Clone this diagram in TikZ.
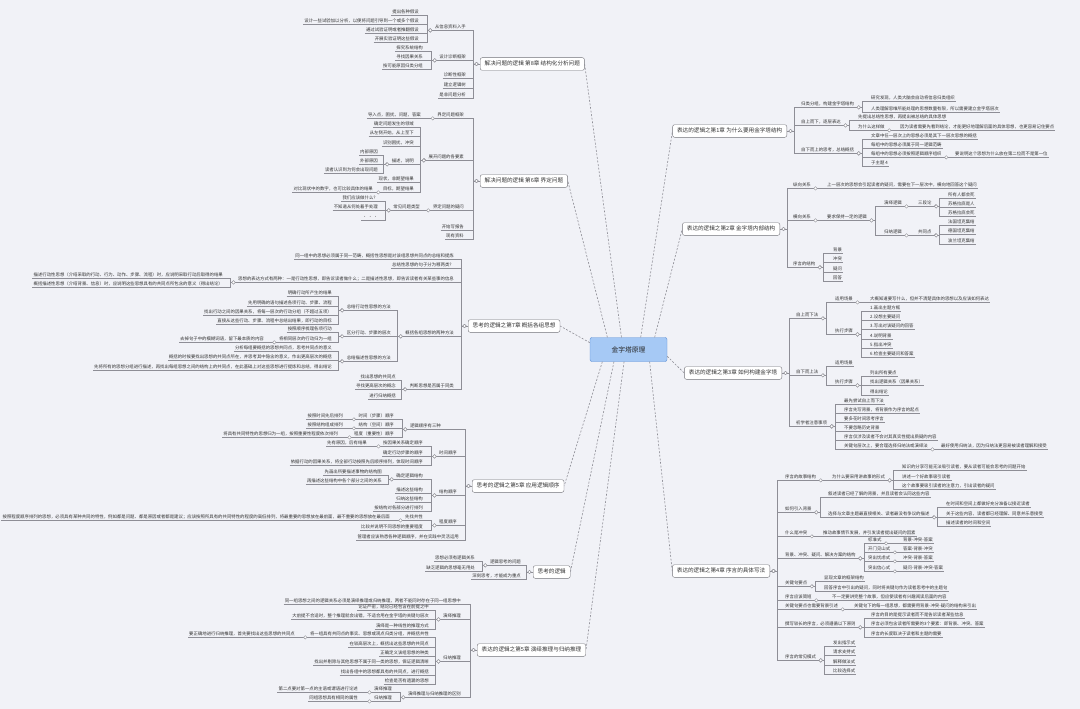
\documentclass[tikz,border=0pt]{standalone}
\usepackage{fontspec}
\setmainfont{Noto Sans CJK SC}
\usetikzlibrary{positioning}
\definecolor{bgcol}{HTML}{F1F2F7}
\definecolor{linecol}{HTML}{8E8E96}
\definecolor{txtcol}{HTML}{333333}
\definecolor{hubfill}{HTML}{A6C9F5}
\definecolor{hubdraw}{HTML}{5A8ED6}

\begin{document}
\begin{tikzpicture}[
  x=1pt, y=-1pt,
  uline/.style={draw=linecol, line width=0.5pt},
  leaf/.style={font=\fontsize{4.4}{5}\selectfont, text=txtcol, inner xsep=1pt, inner ysep=0.9pt,
    text height=3.5pt, text depth=1pt,
    append after command={(\tikzlastnode.south west) edge[uline] (\tikzlastnode.south east)}},
  rleaf/.style={leaf, anchor=west},
  lleaf/.style={leaf, anchor=east},
  chap/.style={draw=linecol!80!black, fill=white, rounded corners=2pt, text=txtcol,
    font=\fontsize{5.6}{6.5}\selectfont, inner xsep=4.5pt, inner ysep=3.4pt,
    text height=4.6pt, text depth=1.2pt},
  hub/.style={draw=hubdraw, fill=hubfill, rounded corners=2pt, minimum width=77pt,
    minimum height=24pt, font=\fontsize{6.8}{8}\selectfont, text=black!85},
  knob/.style={circle, draw=linecol, fill=white, line width=0.4pt, inner sep=0pt, minimum size=3.4pt},
  wire/.style={draw=linecol, line width=0.5pt},
  rfork/.style={to path={-- ++(7,0) node[knob, pos=0.5] {} |- (\tikztotarget)}},
  lfork/.style={to path={-- ++(-7,0) node[knob, pos=0.5] {} |- (\tikztotarget)}},
  link/.style={draw=linecol, line width=0.6pt, dash pattern=on 2pt off 1.6pt},
]
\path[use as bounding box, fill=bgcol] (0,0) rectangle (1080,709);

% centre
\node[hub] (root) at (628.5,349.5) {金字塔原理};

% 第8章 结构化分析问题
\node[chap, anchor=west] (ch8) at (480,64) {解决问题的逻辑 第8章 结构化分析问题};
\node[lleaf] (a8) at (467,27) {从信息资料入手};
\node[lleaf] (a8a) at (420,12) {提出各种假设};
\node[lleaf] (a8b) at (420,21) {设计一些试验加以分析，以便将问题引导到一个或多个假设};
\node[lleaf] (a8c) at (420,30) {通过试验证明或者推翻假设};
\node[lleaf] (a8d) at (420,39) {开展实验证明这些假设};
\node[lleaf] (b8) at (467,57) {设计诊断框架};
\node[lleaf] (b8a) at (424,48) {探究系统结构};
\node[lleaf] (b8b) at (424,57) {寻找因果关系};
\node[lleaf] (b8c) at (424,66) {按可能原因归类分组};
\node[lleaf] (c8) at (467,75) {诊断性框架};
\node[lleaf] (d8) at (467,85) {建立逻辑树};
\node[lleaf] (e8) at (467,95) {是非问题分析};

\draw[wire] (ch8.west) edge[lfork] (a8.south east) edge[lfork] (b8.south east)
  edge[lfork] (c8.south east) edge[lfork] (d8.south east) edge[lfork] (e8.south east);
\draw[wire] (a8.south west) edge[lfork] (a8a.south east) edge[lfork] (a8b.south east)
  edge[lfork] (a8c.south east) edge[lfork] (a8d.south east);
\draw[wire] (b8.south west) edge[lfork] (b8a.south east) edge[lfork] (b8b.south east)
  edge[lfork] (b8c.south east);

% 第6章 界定问题
\node[chap, anchor=west] (ch6) at (480,181) {解决问题的逻辑 第6章 界定问题};
\node[lleaf] (a6) at (465,115) {界定问题框架};
\node[lleaf] (a6a) at (422,115) {导入点，困扰，问题，答案};
\node[lleaf] (b6) at (465,157) {展开问题的各要素};
\node[lleaf] (b6a) at (415,124) {确定问题发生的领域};
\node[lleaf] (b6b) at (415,133) {从左侧开始，从上至下};
\node[lleaf] (b6c) at (415,143) {识别困扰，冲突};
\node[lleaf] (c6) at (415,161) {描述，说明};
\node[lleaf] (c6a) at (379,152) {内部原因};
\node[lleaf] (c6b) at (379,161) {外部原因};
\node[lleaf] (c6c) at (379,170) {读者认识到为何会出现问题};
\node[lleaf] (b6d) at (415,179) {现状，非期望结果};
\node[lleaf] (d6) at (415,189) {目标，期望结果};
\node[lleaf] (d6a) at (374,189) {对比现状中的数字，也可比较具体的结果};
\node[lleaf] (e6) at (465,207) {界定问题的疑问};
\node[lleaf] (f6) at (421,207) {常见问题类型};
\node[lleaf] (f6a) at (379,198) {我们应该做什么？};
\node[lleaf] (f6b) at (379,207) {不知道从何处着手处理};
\node[lleaf] (f6c) at (379,217) {· · ·};
\node[lleaf] (g6) at (465,227) {开始写报告};
\node[lleaf] (h6) at (465,236) {现有资料};

\draw[wire] (ch6.west) edge[lfork] (a6.south east) edge[lfork] (b6.south east)
  edge[lfork] (e6.south east) edge[lfork] (g6.south east) edge[lfork] (h6.south east);
\draw[wire] (a6.south west) edge[lfork] (a6a.south east);
\draw[wire] (b6.south west) edge[lfork] (b6a.south east) edge[lfork] (b6b.south east)
  edge[lfork] (b6c.south east) edge[lfork] (c6.south east) edge[lfork] (b6d.south east)
  edge[lfork] (d6.south east);
\draw[wire] (c6.south west) edge[lfork] (c6a.south east) edge[lfork] (c6b.south east)
  edge[lfork] (c6c.south east);
\draw[wire] (d6.south west) edge[lfork] (d6a.south east);
\draw[wire] (e6.south west) edge[lfork] (f6.south east);
\draw[wire] (f6.south west) edge[lfork] (f6a.south east) edge[lfork] (f6b.south east)
  edge[lfork] (f6c.south east);

% 第7章 概括各组思想
\node[chap, anchor=west] (ch7) at (468,326) {思考的逻辑之第7章 概括各组思想};
\node[lleaf] (a7) at (455,256) {同一组中的思想必须属于同一范畴，概括性思想是对该组思想共同点的总结和提炼};
\node[lleaf] (b7) at (455,265) {总结性思想的句子分为哪两类？};
\node[lleaf] (c7) at (455,279) {思想的表达方式有两种：一是行动性思想，即告诉读者做什么；二是描述性思想，即告诉读者有关某些事的信息};
\node[lleaf] (c7a) at (224,275) {描述行动性思想（介绍采取的行动、行为、动作、步骤、流程）时，应说明采取行动后取得的结果};
\node[lleaf] (c7b) at (224,284) {概括描述性思想（介绍背景、信息）时，应说明这些思想具有的共同点所包含的意义（得出结论）};
\node[lleaf] (d7) at (455,333) {概括各组思想的两种方法};
\node[lleaf] (e7) at (392,307) {总结行动性思想的方法};
\node[lleaf] (e7a) at (333,293) {明确行动所产生的结果};
\node[lleaf] (e7b) at (333,303) {先用明确的语句描述各项行动、步骤、流程};
\node[lleaf] (e7c) at (333,312) {找出行动之间的因果关系，将每一层次的行动分组（不超过五项）};
\node[lleaf] (e7d) at (333,321) {直接从这些行动、步骤、流程中总结出结果，即行动的目标};
\node[lleaf] (f7) at (392,333) {区分行动、步骤的层次};
\node[lleaf] (f7a) at (333,329) {按照顺序梳理各项行动};
\node[lleaf] (g7) at (333,339) {将相同层次的行动归为一组};
\node[lleaf] (g7a) at (265,339) {去掉句子中的模糊词语，留下最本质的内容};
\node[lleaf] (h7) at (392,358) {总结描述性思想的方法};
\node[lleaf] (h7a) at (333,348) {分析每组要概括的思想共同点，思考共同点的意义};
\node[lleaf] (h7b) at (333,357) {概括的时候要找出思想的共同点所在，并思考其中隐含的意义，作出更高层次的概括};
\node[lleaf] (h7c) at (333,367) {先将所有的思想分组进行描述，再找出每组思想之间的结构上的共同点，在此基础上对这些思想进行提炼和总结，得出结论};
\node[lleaf] (i7) at (455,386) {判断思想是否属于同类};
\node[lleaf] (i7a) at (397,377) {找出思想的共同点};
\node[lleaf] (i7b) at (397,386) {寻找更高层次的概念};
\node[lleaf] (i7c) at (397,396) {进行归纳概括};

\draw[wire] (ch7.west) edge[lfork] (a7.south east) edge[lfork] (b7.south east)
  edge[lfork] (c7.south east) edge[lfork] (d7.south east) edge[lfork] (i7.south east);
\draw[wire] (c7.south west) edge[lfork] (c7a.south east) edge[lfork] (c7b.south east);
\draw[wire] (d7.south west) edge[lfork] (e7.south east) edge[lfork] (f7.south east)
  edge[lfork] (h7.south east);
\draw[wire] (e7.south west) edge[lfork] (e7a.south east) edge[lfork] (e7b.south east)
  edge[lfork] (e7c.south east) edge[lfork] (e7d.south east);
\draw[wire] (f7.south west) edge[lfork] (f7a.south east) edge[lfork] (g7.south east);
\draw[wire] (g7.south west) edge[lfork] (g7a.south east);
\draw[wire] (h7.south west) edge[lfork] (h7a.south east) edge[lfork] (h7b.south east)
  edge[lfork] (h7c.south east);
\draw[wire] (i7.south west) edge[lfork] (i7a.south east) edge[lfork] (i7b.south east)
  edge[lfork] (i7c.south east);

% 第5章 应用逻辑顺序
\node[chap, anchor=west] (ch5a) at (472,486) {思考的逻辑之第5章 应用逻辑顺序};
\node[lleaf] (a5) at (442,426) {逻辑顺序有三种};
\node[lleaf] (a5a) at (395,416) {时间（步骤）顺序};
\node[lleaf] (a5a1) at (344,416) {按照时间先后排列};
\node[lleaf] (a5b) at (395,425) {结构（空间）顺序};
\node[lleaf] (a5b1) at (344,425) {按照结构组成排列};
\node[lleaf] (a5c) at (395,434) {程度（重要性）顺序};
\node[lleaf] (a5c1) at (339,434) {将具有共同特性的思想归为一组，按照重要性程度依次排列};
\node[lleaf] (b5) at (458,453) {时间顺序};
\node[lleaf] (b5a) at (424,443) {按因果关系确定顺序};
\node[lleaf] (b5a1) at (368,443) {先有原因，后有结果};
\node[lleaf] (b5b) at (424,453) {确定行动步骤的顺序};
\node[lleaf] (b5c) at (424,462) {依据行动的因果关系，将全部行动按照先后顺序排列，体现时间顺序};
\node[lleaf] (c5) at (458,492) {结构顺序};
\node[lleaf] (c5a) at (424,476) {确定逻辑结构};
\node[lleaf] (c5a1) at (383,472) {先画出所要描述事物的结构图};
\node[lleaf] (c5a2) at (383,481) {再描述这些结构中各个部分之间的关系};
\node[lleaf] (c5b) at (424,490) {描述这些结构};
\node[lleaf] (c5c) at (424,499) {归纳这些结构};
\node[lleaf] (c5d) at (424,508) {按结构对各部分进行排列};
\node[lleaf] (d5) at (458,522) {程度顺序};
\node[lleaf] (d5a) at (424,517) {先找共性};
\node[lleaf] (d5a1) at (391,517) {按照程度顺序排列的思想，必须具有某种共同的特性，例如都是问题、都是原因或者都是建议；应该按照所具有的共同特性的程度的高低排列，将最重要的思想放在最前面，最不重要的思想放在最后面};
\node[lleaf] (d5b) at (424,527) {比较并说明不同思想的重要程度};
\node[lleaf] (e5) at (460,537) {管理者应该熟悉各种逻辑顺序，并在实践中灵活运用};

\draw[wire] (ch5a.west) edge[lfork] (a5.south east) edge[lfork] (b5.south east)
  edge[lfork] (c5.south east) edge[lfork] (d5.south east) edge[lfork] (e5.south east);
\draw[wire] (a5.south west) edge[lfork] (a5a.south east) edge[lfork] (a5b.south east)
  edge[lfork] (a5c.south east);
\draw[wire] (a5a.south west) edge[lfork] (a5a1.south east);
\draw[wire] (a5b.south west) edge[lfork] (a5b1.south east);
\draw[wire] (a5c.south west) edge[lfork] (a5c1.south east);
\draw[wire] (b5.south west) edge[lfork] (b5a.south east) edge[lfork] (b5b.south east)
  edge[lfork] (b5c.south east);
\draw[wire] (b5a.south west) edge[lfork] (b5a1.south east);
\draw[wire] (c5.south west) edge[lfork] (c5a.south east) edge[lfork] (c5b.south east)
  edge[lfork] (c5c.south east) edge[lfork] (c5d.south east);
\draw[wire] (c5a.south west) edge[lfork] (c5a1.south east) edge[lfork] (c5a2.south east);
\draw[wire] (d5.south west) edge[lfork] (d5a.south east) edge[lfork] (d5b.south east);
\draw[wire] (d5a.south west) edge[lfork] (d5a1.south east);

% 思考的逻辑
\node[chap, anchor=west] (think) at (533,572) {思考的逻辑};
\node[lleaf] (a9) at (522,562) {逻辑思考的问题};
\node[lleaf] (a9a) at (476,558) {思想必须有逻辑关系};
\node[lleaf] (a9b) at (476,568) {缺乏逻辑的思想毫无用处};
\node[lleaf] (b9) at (522,576) {深刻思考，才能成为重点};

\draw[wire] (think.west) edge[lfork] (a9.south east) edge[lfork] (b9.south east);
\draw[wire] (a9.south west) edge[lfork] (a9a.south east) edge[lfork] (a9b.south east);

% 第5章 演绎推理与归纳推理
\node[chap, anchor=west] (ch5b) at (477,650) {表达的逻辑之第5章 演绎推理与归纳推理};
\node[lleaf] (a10) at (462,601) {同一组思想之间的逻辑关系必须是演绎推理或归纳推理，两者不能同时存在于同一组思想中};
\node[lleaf] (b10) at (462,616) {演绎推理};
\node[lleaf] (b10a) at (430,607) {论证严密，结论已经包含在前提之中};
\node[lleaf] (b10b) at (430,616) {大前提不合适时，整个推理就会出错，不适合用在金字塔的关键句层次};
\node[lleaf] (b10c) at (430,626) {演绎是一种线性的推理方式};
\node[lleaf] (c10) at (462,658) {归纳推理};
\node[lleaf] (c10a) at (430,634) {将一组具有共同点的事实、思想或观点归类分组，并概括共性};
\node[lleaf] (c10a1) at (296,634) {要正确地进行归纳推理，首先要找出这些思想的共同点};
\node[lleaf] (c10b) at (430,644) {在较高层次上，概括出这些思想的共同点};
\node[lleaf] (c10c) at (430,653) {正确定义该组思想的种类};
\node[lleaf] (c10d) at (430,662) {找出并剔除与其他思想不属于同一类的思想，保证逻辑清晰};
\node[lleaf] (c10e) at (430,672) {找出各组中的思想都具有的共同点，进行概括};
\node[lleaf] (c10f) at (430,681) {检查是否有遗漏的思想};
\node[lleaf] (d10) at (462,694) {演绎推理与归纳推理的区别};
\node[lleaf] (d10a) at (393,689) {演绎推理};
\node[lleaf] (d10a1) at (359,689) {第二点要对第一点的主语或谓语进行论述};
\node[lleaf] (d10b) at (393,698) {归纳推理};
\node[lleaf] (d10b1) at (359,698) {同组思想具有相同的属性};

\draw[wire] (ch5b.west) edge[lfork] (a10.south east) edge[lfork] (b10.south east)
  edge[lfork] (c10.south east) edge[lfork] (d10.south east);
\draw[wire] (b10.south west) edge[lfork] (b10a.south east) edge[lfork] (b10b.south east)
  edge[lfork] (b10c.south east);
\draw[wire] (c10.south west) edge[lfork] (c10a.south east) edge[lfork] (c10b.south east)
  edge[lfork] (c10c.south east) edge[lfork] (c10d.south east) edge[lfork] (c10e.south east)
  edge[lfork] (c10f.south east);
\draw[wire] (c10a.south west) edge[lfork] (c10a1.south east);
\draw[wire] (d10.south west) edge[lfork] (d10a.south east) edge[lfork] (d10b.south east);
\draw[wire] (d10a.south west) edge[lfork] (d10a1.south east);
\draw[wire] (d10b.south west) edge[lfork] (d10b1.south east);

% 第1章 为什么要用金字塔结构
\node[chap, anchor=east] (ch1) at (787,131) {表达的逻辑之第1章 为什么要用金字塔结构};
\node[rleaf] (a1) at (800,104) {归类分组，构建金字塔结构};
\node[rleaf] (a1a) at (870,98) {研究发现，人类大脑会自动将信息归类组织};
\node[rleaf] (a1b) at (870,109) {人类理解思维所能处理的思想数量有限，所以需要建立金字塔层次};
\node[rleaf] (b1) at (800,122) {自上而下，逐层表达};
\node[rleaf] (b1a) at (857,117) {先提出总结性思想，再提出被总结的具体思想};
\node[rleaf] (c1) at (857,127) {为什么这样做};
\node[rleaf] (c1a) at (899,127) {因为读者需要先看到结论，才能更好地理解后面的具体思想，也更容易记住要点};
\node[rleaf] (d1) at (800,150) {自下而上的思考，总结概括};
\node[rleaf] (d1a) at (870,136) {文章中任一层次上的思想必须是其下一层次思想的概括};
\node[rleaf] (d1b) at (870,145) {每组中的思想必须属于同一逻辑范畴};
\node[rleaf] (e1) at (870,154) {每组中的思想必须按照逻辑顺序组织};
\node[rleaf] (e1a) at (954,154) {要说明这个思想为什么放在第二位而不是第一位};
\node[rleaf] (d1c) at (870,163) {子主题 4};

\draw[wire] (ch1.east) edge[rfork] (a1.south west) edge[rfork] (b1.south west)
  edge[rfork] (d1.south west);
\draw[wire] (a1.south east) edge[rfork] (a1a.south west) edge[rfork] (a1b.south west);
\draw[wire] (b1.south east) edge[rfork] (b1a.south west) edge[rfork] (c1.south west);
\draw[wire] (c1.south east) edge[rfork] (c1a.south west);
\draw[wire] (d1.south east) edge[rfork] (d1a.south west) edge[rfork] (d1b.south west)
  edge[rfork] (e1.south west) edge[rfork] (d1c.south west);
\draw[wire] (e1.south east) edge[rfork] (e1a.south west);

% 第2章 金字塔内部结构
\node[chap, anchor=east] (ch2) at (780,229) {表达的逻辑之第2章 金字塔内部结构};
\node[rleaf] (a2) at (792,185) {纵向关系};
\node[rleaf] (a2a) at (826,185) {上一层次的思想会引起读者的疑问，需要在下一层次中，横向地回答这个疑问};
\node[rleaf] (b2) at (792,217) {横向关系};
\node[rleaf] (c2) at (826,217) {要求保持一定的逻辑};
\node[rleaf] (d2) at (883,203) {演绎逻辑};
\node[rleaf] (e2) at (917,203) {三段论};
\node[rleaf] (e2a) at (947,195) {所有人都会死};
\node[rleaf] (e2b) at (947,204) {苏格拉底是人};
\node[rleaf] (e2c) at (947,213) {苏格拉底会死};
\node[rleaf] (f2) at (883,232) {归纳逻辑};
\node[rleaf] (g2) at (917,232) {共同点};
\node[rleaf] (g2a) at (947,222) {法国坦克集结};
\node[rleaf] (g2b) at (947,231) {德国坦克集结};
\node[rleaf] (g2c) at (947,241) {波兰坦克集结};
\node[rleaf] (h2) at (792,264) {序言的结构};
\node[rleaf] (h2a) at (832,250) {背景};
\node[rleaf] (h2b) at (832,259) {冲突};
\node[rleaf] (h2c) at (832,269) {疑问};
\node[rleaf] (h2d) at (832,278) {回答};

\draw[wire] (ch2.east) edge[rfork] (a2.south west) edge[rfork] (b2.south west)
  edge[rfork] (h2.south west);
\draw[wire] (a2.south east) edge[rfork] (a2a.south west);
\draw[wire] (b2.south east) edge[rfork] (c2.south west);
\draw[wire] (c2.south east) edge[rfork] (d2.south west) edge[rfork] (f2.south west);
\draw[wire] (d2.south east) edge[rfork] (e2.south west);
\draw[wire] (e2.south east) edge[rfork] (e2a.south west) edge[rfork] (e2b.south west)
  edge[rfork] (e2c.south west);
\draw[wire] (f2.south east) edge[rfork] (g2.south west);
\draw[wire] (g2.south east) edge[rfork] (g2a.south west) edge[rfork] (g2b.south west)
  edge[rfork] (g2c.south west);
\draw[wire] (h2.south east) edge[rfork] (h2a.south west) edge[rfork] (h2b.south west)
  edge[rfork] (h2c.south west) edge[rfork] (h2d.south west);

% 第3章 如何构建金字塔
\node[chap, anchor=east] (ch3) at (782,373) {表达的逻辑之第3章 如何构建金字塔};
\node[rleaf] (a3) at (795,315) {自上而下法};
\node[rleaf] (b3) at (834,299) {适用场景};
\node[rleaf] (b3a) at (869,299) {大概知道要写什么，但并不清楚具体的思想以及应该如何表达};
\node[rleaf] (c3) at (834,331) {执行步骤};
\node[rleaf] (c3a) at (869,308) {1.画出主题方框};
\node[rleaf] (c3b) at (869,317) {2.设想主要疑问};
\node[rleaf] (c3c) at (869,326) {3.写出对该疑问的回答};
\node[rleaf] (c3d) at (869,336) {4.说明背景};
\node[rleaf] (c3e) at (869,345) {5.指出冲突};
\node[rleaf] (c3f) at (869,354) {6.检查主要疑问和答案};
\node[rleaf] (d3) at (795,372) {自下而上法};
\node[rleaf] (d3a) at (834,363) {适用场景};
\node[rleaf] (e3) at (834,382) {执行步骤};
\node[rleaf] (e3a) at (869,373) {列出所有要点};
\node[rleaf] (e3b) at (869,382) {找出逻辑关系（因果关系）};
\node[rleaf] (e3c) at (869,392) {得出结论};
\node[rleaf] (f3) at (795,423) {初学者注意事项};
\node[rleaf] (f3a) at (843,401) {最先尝试自上而下法};
\node[rleaf] (f3b) at (843,410) {序言先写背景，将背景作为序言的起点};
\node[rleaf] (f3c) at (843,419) {要多花时间思考序言};
\node[rleaf] (f3d) at (843,428) {不要忽略历史背景};
\node[rleaf] (f3e) at (843,437) {序言仅涉及读者不会对其真实性提出质疑的内容};
\node[rleaf] (g3) at (843,446) {关键句层次上，要合理选择归纳法或演绎法};
\node[rleaf] (g3a) at (940,446) {最好使用归纳法，因为归纳法更容易被读者理解和接受};

\draw[wire] (ch3.east) edge[rfork] (a3.south west) edge[rfork] (d3.south west)
  edge[rfork] (f3.south west);
\draw[wire] (a3.south east) edge[rfork] (b3.south west) edge[rfork] (c3.south west);
\draw[wire] (b3.south east) edge[rfork] (b3a.south west);
\draw[wire] (c3.south east) edge[rfork] (c3a.south west) edge[rfork] (c3b.south west)
  edge[rfork] (c3c.south west) edge[rfork] (c3d.south west) edge[rfork] (c3e.south west)
  edge[rfork] (c3f.south west);
\draw[wire] (d3.south east) edge[rfork] (d3a.south west) edge[rfork] (e3.south west);
\draw[wire] (e3.south east) edge[rfork] (e3a.south west) edge[rfork] (e3b.south west)
  edge[rfork] (e3c.south west);
\draw[wire] (f3.south east) edge[rfork] (f3a.south west) edge[rfork] (f3b.south west)
  edge[rfork] (f3c.south west) edge[rfork] (f3d.south west) edge[rfork] (f3e.south west)
  edge[rfork] (g3.south west);
\draw[wire] (g3.south east) edge[rfork] (g3a.south west);

% 第4章 序言的具体写法
\node[chap, anchor=east] (ch4) at (770,571) {表达的逻辑之第4章 序言的具体写法};
\node[rleaf] (a4) at (784,477) {序言的故事结构};
\node[rleaf] (b4) at (831,477) {为什么要采用讲故事的形式};
\node[rleaf] (b4a) at (901,467) {知识的分享可能无法吸引读者，要从读者可能会思考的问题开始};
\node[rleaf] (b4b) at (901,477) {讲述一个好故事吸引读者};
\node[rleaf] (b4c) at (901,486) {这个故事要吸引读者的注意力，引出读者的疑问};
\node[rleaf] (c4) at (784,509) {如何引入背景};
\node[rleaf] (c4a) at (827,494) {叙述读者已经了解的背景，并且读者会认同这些内容};
\node[rleaf] (d4) at (827,514) {选择与文章主题最直接相关、读者最没有争议的描述};
\node[rleaf] (d4a) at (945,504) {在时间和空间上都做好充分准备以接近读者};
\node[rleaf] (d4b) at (945,514) {关于这些内容，读者都已经理解、同意并乐意接受};
\node[rleaf] (d4c) at (945,523) {描述读者的时间和空间};
\node[rleaf] (e4) at (784,533) {什么是冲突};
\node[rleaf] (e4a) at (822,533) {推动故事情节发展，并引发读者提出疑问的因素};
\node[rleaf] (f4) at (784,555) {背景、冲突、疑问、解决方案的结构};
\node[rleaf] (g4) at (867,540) {标准式};
\node[rleaf] (g4a) at (902,540) {背景-冲突-答案};
\node[rleaf] (h4) at (867,549) {开门见山式};
\node[rleaf] (h4a) at (902,549) {答案-背景-冲突};
\node[rleaf] (i4) at (867,558) {突出忧虑式};
\node[rleaf] (i4a) at (902,558) {冲突-背景-答案};
\node[rleaf] (j4) at (867,568) {突出信心式};
\node[rleaf] (j4a) at (902,568) {疑问-背景-冲突-答案};
\node[rleaf] (k4) at (784,583) {关键句要点};
\node[rleaf] (k4a) at (823,578) {显现文章的框架结构};
\node[rleaf] (k4b) at (823,588) {回答序言中引出的疑问，同时将关键句作为读者思考中的主题句};
\node[rleaf] (l4) at (784,597) {序言应该简短};
\node[rleaf] (l4a) at (831,597) {不一定要讲完整个故事，但应使读者有兴趣阅读后面的内容};
\node[rleaf] (m4) at (784,606) {关键句要点也需要背景引述};
\node[rleaf] (m4a) at (853,606) {关键句下的每一组思想，都需要用背景-冲突-疑问的结构来引出};
\node[rleaf] (n4) at (784,624) {撰写较长的序言，必须遵循以下原则};
\node[rleaf] (n4a) at (870,615) {序言的目的是提示读者而不是告诉读者某些信息};
\node[rleaf] (n4b) at (870,624) {序言必须包含读者所需要的3个要素：即背景、冲突、答案};
\node[rleaf] (n4c) at (870,634) {序言的长度取决于读者和主题的需要};
\node[rleaf] (o4) at (784,657) {序言的常见模式};
\node[rleaf] (o4a) at (832,643) {发出指示式};
\node[rleaf] (o4b) at (832,652) {请求支持式};
\node[rleaf] (o4c) at (832,662) {解释做法式};
\node[rleaf] (o4d) at (832,671) {比较选择式};

\draw[wire] (ch4.east) edge[rfork] (a4.south west) edge[rfork] (c4.south west)
  edge[rfork] (e4.south west) edge[rfork] (f4.south west) edge[rfork] (k4.south west)
  edge[rfork] (l4.south west) edge[rfork] (m4.south west) edge[rfork] (n4.south west)
  edge[rfork] (o4.south west);
\draw[wire] (a4.south east) edge[rfork] (b4.south west);
\draw[wire] (b4.south east) edge[rfork] (b4a.south west) edge[rfork] (b4b.south west)
  edge[rfork] (b4c.south west);
\draw[wire] (c4.south east) edge[rfork] (c4a.south west) edge[rfork] (d4.south west);
\draw[wire] (d4.south east) edge[rfork] (d4a.south west) edge[rfork] (d4b.south west)
  edge[rfork] (d4c.south west);
\draw[wire] (e4.south east) edge[rfork] (e4a.south west);
\draw[wire] (f4.south east) edge[rfork] (g4.south west) edge[rfork] (h4.south west)
  edge[rfork] (i4.south west) edge[rfork] (j4.south west);
\draw[wire] (g4.south east) edge[rfork] (g4a.south west);
\draw[wire] (h4.south east) edge[rfork] (h4a.south west);
\draw[wire] (i4.south east) edge[rfork] (i4a.south west);
\draw[wire] (j4.south east) edge[rfork] (j4a.south west);
\draw[wire] (k4.south east) edge[rfork] (k4a.south west) edge[rfork] (k4b.south west);
\draw[wire] (l4.south east) edge[rfork] (l4a.south west);
\draw[wire] (m4.south east) edge[rfork] (m4a.south west);
\draw[wire] (n4.south east) edge[rfork] (n4a.south west) edge[rfork] (n4b.south west)
  edge[rfork] (n4c.south west);
\draw[wire] (o4.south east) edge[rfork] (o4a.south west) edge[rfork] (o4b.south west)
  edge[rfork] (o4c.south west) edge[rfork] (o4d.south west);

% centre to chapters
\draw[link] (root.120) -- (ch8.east);
\draw[link] (root.150) -- (ch6.east);
\draw[link] (root.170) -- (ch7.east);
\draw[link] (root.205) -- (ch5a.east);
\draw[link] (root.220) -- (think.east);
\draw[link] (root.250) -- (ch5b.east);
\draw[link] (root.45) -- (ch1.west);
\draw[link] (root.25) -- (ch2.west);
\draw[link] (root.350) -- (ch3.west);
\draw[link] (root.330) -- (ch4.west);

\end{tikzpicture}
\end{document}
